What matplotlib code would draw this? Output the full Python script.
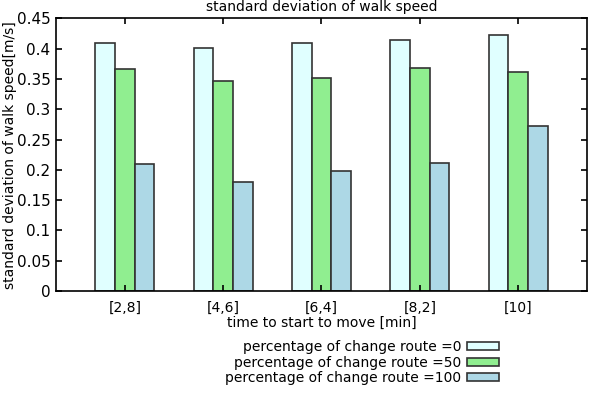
import numpy as np
import matplotlib
matplotlib.use('Agg')
import matplotlib.pyplot as plt

# data
groups = ['[2,8]', '[4,6]', '[6,4]', '[8,2]', '[10]']
route_0 = [0.410, 0.401, 0.409, 0.414, 0.423]
route_50 = [0.366, 0.347, 0.352, 0.368, 0.361]
route_100 = [0.209, 0.180, 0.198, 0.212, 0.272]
series_labels = ['percentage of change route =0',
                 'percentage of change route =50',
                 'percentage of change route =100']
colors = ['#e0ffff', '#90ee90', '#add8e6']

fig = plt.figure(figsize=(5.97, 4.0), dpi=100)
ax = fig.add_axes([0.094, 0.2725, 0.889, 0.6815])

x = np.arange(len(groups))
w = 0.2
for i, (vals, lab, col) in enumerate(zip([route_0, route_50, route_100], series_labels, colors)):
    ax.bar(x + (i - 1) * w, vals, width=w, color=col, edgecolor='#333333',
           linewidth=1.2, label=lab)

ax.set_xlim(-0.7, len(groups) - 0.3)
ax.set_ylim(0, 0.45)
ax.set_yticks(np.arange(0, 0.451, 0.05))
ax.set_yticklabels(['0', '0.05', '0.1', '0.15', '0.2', '0.25', '0.3', '0.35', '0.4', '0.45'])
ax.set_xticks(x)
ax.set_xticklabels(groups)
ax.tick_params(direction='in', top=True, right=True, labelsize=11, length=4, width=1.2)
ax.tick_params(axis='x', pad=7, labelsize=10)
ax.tick_params(axis='y', pad=4)
for s in ax.spines.values():
    s.set_linewidth(1.2)

ax.set_title('standard deviation of walk speed', fontsize=10, pad=5)
ax.set_ylabel('standard deviation of walk speed[m/s]', fontsize=10, labelpad=0)
ax.set_xlabel('time to start to move [min]', fontsize=10, labelpad=1)

ax.legend(loc='upper right', bbox_to_anchor=(506 / 597, 1 - 333 / 400),
          bbox_transform=fig.transFigure, frameon=False,
          markerfirst=False, fontsize=10, handlelength=2.3, handleheight=0.5,
          labelspacing=0.12, handletextpad=0.4, borderpad=0)

fig.savefig('out.png', dpi=100)
